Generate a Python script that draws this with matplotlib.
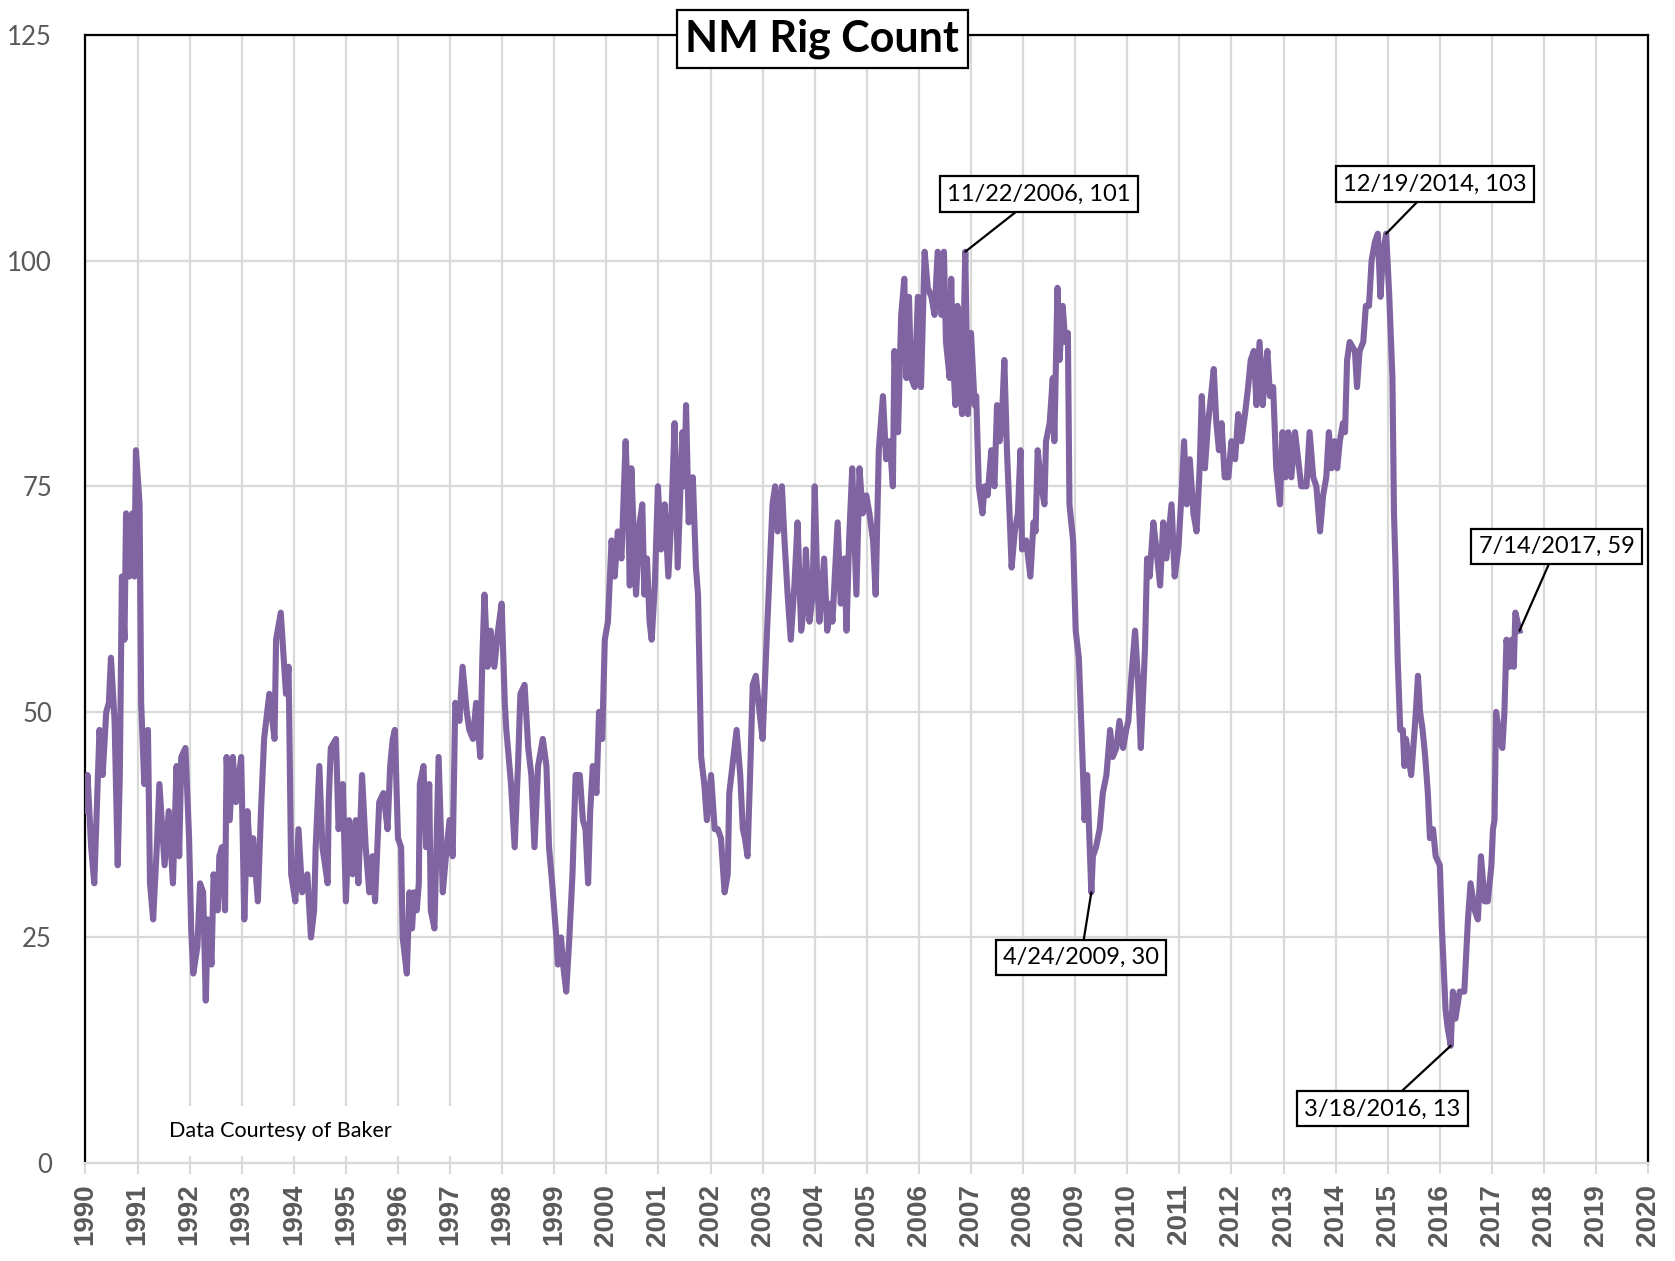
import numpy as np
import matplotlib.pyplot as plt
from matplotlib.patches import Rectangle

# Weekly New Mexico rig count (decimal years)
dates = [
    1990.00, 1990.04, 1990.11, 1990.17, 1990.27, 1990.33, 1990.40, 1990.45, 1990.49, 1990.56,
    1990.62, 1990.66, 1990.70, 1990.75, 1990.78, 1990.84, 1990.90, 1990.94, 1990.97, 1991.04,
    1991.07, 1991.13, 1991.20, 1991.24, 1991.30, 1991.37, 1991.42, 1991.52, 1991.60, 1991.68,
    1991.75, 1991.80, 1991.84, 1991.92, 1991.99, 1992.03, 1992.07, 1992.15, 1992.20, 1992.26,
    1992.31, 1992.35, 1992.42, 1992.46, 1992.54, 1992.57, 1992.62, 1992.68, 1992.71, 1992.77,
    1992.83, 1992.89, 1992.99, 1993.05, 1993.11, 1993.18, 1993.22, 1993.31, 1993.37, 1993.43,
    1993.53, 1993.63, 1993.66, 1993.75, 1993.85, 1993.90, 1993.95, 1994.03, 1994.09, 1994.16,
    1994.26, 1994.33, 1994.39, 1994.42, 1994.49, 1994.55, 1994.65, 1994.67, 1994.71, 1994.81,
    1994.86, 1994.94, 1995.00, 1995.06, 1995.13, 1995.19, 1995.24, 1995.31, 1995.38, 1995.45,
    1995.51, 1995.56, 1995.64, 1995.72, 1995.80, 1995.85, 1995.90, 1995.94, 1996.00, 1996.06,
    1996.09, 1996.17, 1996.22, 1996.27, 1996.31, 1996.36, 1996.40, 1996.42, 1996.49, 1996.54,
    1996.60, 1996.63, 1996.70, 1996.78, 1996.86, 1996.92, 1996.99, 1997.05, 1997.10, 1997.18,
    1997.24, 1997.32, 1997.37, 1997.44, 1997.50, 1997.58, 1997.62, 1997.66, 1997.72, 1997.78,
    1997.85, 1997.92, 1997.99, 1998.05, 1998.08, 1998.17, 1998.24, 1998.31, 1998.35, 1998.43,
    1998.50, 1998.56, 1998.62, 1998.69, 1998.78, 1998.85, 1998.90, 1998.96, 1999.04, 1999.07,
    1999.13, 1999.17, 1999.23, 1999.29, 1999.35, 1999.41, 1999.49, 1999.55, 1999.60, 1999.65,
    1999.69, 1999.74, 1999.81, 1999.86, 1999.92, 1999.97, 2000.03, 2000.10, 2000.16, 2000.22,
    2000.29, 2000.37, 2000.42, 2000.45, 2000.48, 2000.53, 2000.57, 2000.64, 2000.69, 2000.73,
    2000.78, 2000.83, 2000.87, 2000.93, 2000.99, 2001.05, 2001.12, 2001.19, 2001.25, 2001.31,
    2001.37, 2001.46, 2001.50, 2001.53, 2001.58, 2001.66, 2001.72, 2001.76, 2001.82, 2001.88,
    2001.93, 2002.01, 2002.08, 2002.14, 2002.20, 2002.27, 2002.33, 2002.36, 2002.44, 2002.50,
    2002.57, 2002.62, 2002.66, 2002.71, 2002.77, 2002.81, 2002.87, 2002.94, 2003.00, 2003.07,
    2003.13, 2003.19, 2003.24, 2003.29, 2003.37, 2003.42, 2003.48, 2003.54, 2003.61, 2003.67,
    2003.74, 2003.80, 2003.83, 2003.90, 2003.96, 2004.00, 2004.05, 2004.09, 2004.18, 2004.24,
    2004.31, 2004.34, 2004.44, 2004.50, 2004.57, 2004.61, 2004.66, 2004.72, 2004.80, 2004.86,
    2004.92, 2004.99, 2005.05, 2005.12, 2005.17, 2005.23, 2005.31, 2005.37, 2005.44, 2005.50,
    2005.53, 2005.60, 2005.66, 2005.72, 2005.76, 2005.81, 2005.85, 2005.92, 2005.98, 2006.04,
    2006.11, 2006.17, 2006.24, 2006.30, 2006.36, 2006.43, 2006.48, 2006.52, 2006.59, 2006.62,
    2006.65, 2006.70, 2006.74, 2006.78, 2006.83, 2006.89, 2006.94, 2007.00, 2007.07, 2007.10,
    2007.15, 2007.22, 2007.26, 2007.32, 2007.39, 2007.45, 2007.50, 2007.55, 2007.59, 2007.64,
    2007.69, 2007.74, 2007.78, 2007.84, 2007.90, 2007.95, 2007.98, 2008.06, 2008.14, 2008.20,
    2008.24, 2008.28, 2008.35, 2008.41, 2008.44, 2008.51, 2008.57, 2008.60, 2008.66, 2008.70,
    2008.76, 2008.81, 2008.86, 2008.89, 2008.96, 2009.01, 2009.07, 2009.14, 2009.18, 2009.23,
    2009.31, 2009.34, 2009.40, 2009.47, 2009.53, 2009.60, 2009.67, 2009.72, 2009.79, 2009.85,
    2009.92, 2009.98, 2010.02, 2010.08, 2010.15, 2010.21, 2010.26, 2010.34, 2010.38, 2010.43,
    2010.50, 2010.56, 2010.63, 2010.69, 2010.75, 2010.85, 2010.91, 2010.98, 2011.04, 2011.09,
    2011.14, 2011.20, 2011.27, 2011.33, 2011.39, 2011.43, 2011.49, 2011.55, 2011.59, 2011.66,
    2011.71, 2011.76, 2011.81, 2011.87, 2011.94, 2012.00, 2012.07, 2012.13, 2012.19, 2012.26,
    2012.32, 2012.37, 2012.43, 2012.48, 2012.54, 2012.60, 2012.64, 2012.69, 2012.74, 2012.80,
    2012.86, 2012.93, 2012.98, 2013.04, 2013.09, 2013.15, 2013.22, 2013.28, 2013.34, 2013.44,
    2013.50, 2013.57, 2013.63, 2013.70, 2013.76, 2013.82, 2013.87, 2013.92, 2013.98, 2014.03,
    2014.08, 2014.14, 2014.18, 2014.22, 2014.27, 2014.37, 2014.41, 2014.46, 2014.53, 2014.58,
    2014.64, 2014.69, 2014.75, 2014.81, 2014.86, 2014.91, 2014.97, 2015.03, 2015.09, 2015.12,
    2015.15, 2015.19, 2015.24, 2015.29, 2015.32, 2015.35, 2015.40, 2015.45, 2015.49, 2015.54,
    2015.58, 2015.62, 2015.67, 2015.72, 2015.77, 2015.81, 2015.87, 2015.92, 2016.00, 2016.04,
    2016.11, 2016.15, 2016.21, 2016.25, 2016.30, 2016.38, 2016.47, 2016.54, 2016.59, 2016.67,
    2016.73, 2016.79, 2016.86, 2016.92, 2016.99, 2017.02, 2017.05, 2017.08, 2017.15, 2017.20,
    2017.24, 2017.28, 2017.34, 2017.38, 2017.42, 2017.45, 2017.53,
]
rigs = [
    39, 43, 35, 31, 48, 43, 50, 51, 56, 49,
    33, 43, 65, 58, 72, 65, 72, 65, 79, 73,
    51, 42, 48, 31, 27, 35, 42, 33, 39, 31,
    44, 34, 45, 46, 36, 26, 21, 24, 31, 30,
    18, 27, 22, 32, 28, 34, 35, 28, 45, 38,
    45, 40, 45, 27, 39, 32, 36, 29, 39, 47,
    52, 47, 58, 61, 52, 55, 32, 29, 37, 30,
    32, 25, 28, 35, 44, 35, 31, 40, 46, 47,
    37, 42, 29, 38, 32, 38, 31, 43, 35, 30,
    34, 29, 40, 41, 37, 44, 47, 48, 36, 35,
    25, 21, 30, 26, 30, 28, 31, 42, 44, 35,
    42, 28, 26, 45, 30, 34, 38, 34, 51, 49,
    55, 50, 48, 47, 51, 45, 56, 63, 55, 59,
    55, 59, 62, 51, 48, 42, 35, 45, 52, 53,
    46, 43, 35, 44, 47, 44, 35, 31, 25, 22,
    25, 22, 19, 25, 32, 43, 43, 38, 37, 31,
    39, 44, 41, 50, 47, 58, 60, 69, 65, 70,
    67, 80, 72, 64, 77, 69, 63, 71, 73, 63,
    67, 60, 58, 64, 75, 68, 73, 65, 72, 82,
    66, 81, 75, 84, 71, 76, 66, 63, 45, 42,
    38, 43, 37, 37, 36, 30, 32, 41, 45, 48,
    43, 37, 36, 34, 45, 53, 54, 50, 47, 57,
    65, 73, 75, 70, 75, 69, 63, 58, 64, 71,
    59, 62, 68, 60, 63, 75, 64, 60, 67, 59,
    62, 60, 71, 62, 67, 59, 69, 77, 63, 77,
    72, 74, 72, 69, 63, 79, 85, 78, 80, 75,
    90, 81, 94, 98, 87, 96, 87, 86, 96, 86,
    101, 97, 96, 94, 101, 94, 101, 91, 87, 98,
    90, 84, 95, 87, 83, 101, 83, 92, 84, 85,
    75, 72, 75, 74, 79, 75, 84, 80, 82, 89,
    79, 72, 66, 70, 72, 79, 68, 69, 65, 71,
    70, 79, 75, 73, 80, 82, 87, 80, 97, 89,
    95, 91, 92, 73, 69, 59, 56, 45, 38, 43,
    30, 34, 35, 37, 41, 43, 48, 45, 46, 49,
    46, 48, 49, 54, 59, 53, 46, 57, 67, 65,
    71, 68, 64, 71, 67, 73, 65, 68, 74, 80,
    73, 78, 72, 70, 77, 85, 77, 82, 84, 88,
    82, 79, 82, 76, 76, 80, 78, 83, 80, 83,
    86, 89, 90, 84, 91, 84, 87, 90, 85, 86,
    77, 73, 81, 76, 81, 76, 81, 78, 75, 75,
    81, 76, 75, 70, 74, 76, 81, 77, 80, 77,
    80, 82, 81, 89, 91, 90, 86, 90, 91, 95,
    95, 100, 102, 103, 96, 101, 103, 96, 87, 72,
    66, 56, 48, 48, 44, 47, 45, 43, 46, 50,
    54, 50, 48, 45, 41, 36, 37, 34, 33, 26,
    17, 15, 13, 19, 16, 19, 19, 27, 31, 28,
    27, 34, 29, 29, 33, 37, 38, 50, 47, 46,
    50, 58, 55, 58, 55, 61, 59,
]

# data labels shown on the chart
label_dates = [2006.89, 2014.97, 2017.53, 2009.31, 2016.21]
label_texts = ["11/22/2006, 101", "12/19/2014, 103", "7/14/2017, 59",
               "4/24/2009, 30", "3/18/2016, 13"]
label_pos = [(2008.30, 107.4), (2015.90, 108.5), (2018.24, 68.3),
             (2009.11, 22.8), (2014.90, 6.0)]

years = list(range(1990, 2021))

plt.rcParams['font.family'] = ['Lato', 'DejaVu Sans']

fig = plt.figure(figsize=(16.75, 12.61), dpi=100)
ax = fig.add_axes([0.051, 0.0777, 0.933, 0.8944])

dates_arr = np.array(dates)
rigs_arr = np.array(rigs)
ax.plot(dates_arr, rigs_arr, color='#8064A2', lw=4.4, zorder=3,
        solid_joinstyle='round')

ax.set_xlim(1990, 2020)
ax.set_ylim(0, 125)
ax.set_xticks(years)
ax.set_xticklabels([str(y) for y in years], rotation=90,
                   family='Liberation Sans', fontweight='bold',
                   fontsize=20, color='#595959')
ax.set_yticks([0, 25, 50, 75, 100, 125])
ax.set_yticklabels(['0', '25', '50', '75', '100', '125'],
                   fontsize=18.5, color='#595959')
ax.tick_params(axis='y', length=0, pad=24)
ax.tick_params(axis='x', length=8, width=1.5, color='#D9D9D9', pad=7)

ax.grid(True, color='#D9D9D9', lw=1.6, zorder=0)
ax.set_axisbelow(True)
for side in ['left', 'top', 'right']:
    ax.spines[side].set_color('black')
    ax.spines[side].set_linewidth(1.6)
ax.spines['bottom'].set_color('#D9D9D9')
ax.spines['bottom'].set_linewidth(1.6)

# white text box for the source note (it hides the grid lines behind it)
ax.add_patch(Rectangle((1991.15, 0.8), 6.5, 5.5, facecolor='white',
                       edgecolor='none', zorder=1))
ax.text(1991.60, 3.6, 'Data Courtesy of Baker', fontsize=15.5,
        va='center', ha='left', zorder=2)

for d, txt, pos in zip(label_dates, label_texts, label_pos):
    i = int(np.argmin(np.abs(dates_arr - d)))
    ax.annotate(txt, xy=(dates_arr[i], rigs_arr[i]), xytext=pos,
                textcoords='data', ha='center', va='center', fontsize=17,
                bbox=dict(boxstyle='square,pad=0.3', fc='white', ec='black', lw=1.6),
                arrowprops=dict(arrowstyle='-', color='black', lw=1.6,
                                shrinkA=0, shrinkB=0),
                zorder=5)

fig.text(0.491, 0.969, 'NM Rig Count', fontsize=31, fontweight='bold',
         ha='center', va='center',
         bbox=dict(boxstyle='square,pad=0.2', fc='white', ec='black', lw=1.6))

fig.savefig('out.png', dpi=100)
